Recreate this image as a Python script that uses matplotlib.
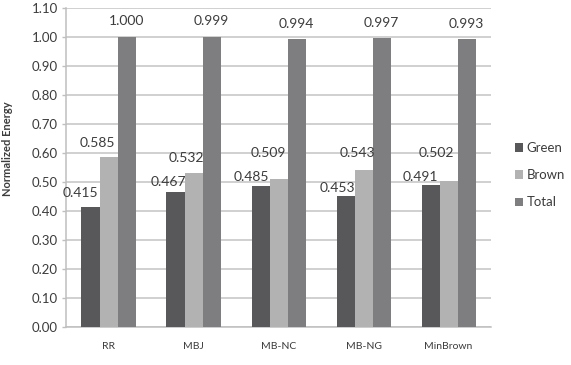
import matplotlib.pyplot as plt
import numpy as np
import matplotlib

matplotlib.rc("font", family=['Lato', 'DejaVu Sans'])

# data
schemes = ['RR', 'MBJ', 'MB-NC', 'MB-NG', 'MinBrown']
green = [0.415, 0.467, 0.485, 0.453, 0.491]
brown = [0.585, 0.532, 0.509, 0.543, 0.502]
total = [1.000, 0.999, 0.994, 0.997, 0.993]
series_names = ['Green', 'Brown', 'Total']

colors = ['#58585a', '#b2b2b2', '#7e7e80']
text_col = '#3c3c3c'

# label shifts in pixels (as Excel placed them)
dx_px = [[-10, -7, -9, -8, -10], [-11, -7, -10, -6, -12], [0, 0, 0, 0, 0]]
dy_px = [[14, 10, 9, 8, 8], [14, 15, 26, 17, 28], [16, 16, 15, 15, 15]]

fig = plt.figure(figsize=(5.71, 3.65), dpi=100)
ax = fig.add_axes([0.1156, 0.1041, 0.7444, 0.8739])

x = np.arange(len(schemes))
w = 0.212
series = [green, brown, total]
offsets = [-w, 0, w]

for i, (vals, off, col, name) in enumerate(zip(series, offsets, colors, series_names)):
    bars = ax.bar(x + off, vals, width=w, color=col, label=name, zorder=3)
    for j, (b, v) in enumerate(zip(bars, vals)):
        ax.annotate('%.3f' % v, (b.get_x() + b.get_width() / 2, v),
                    xytext=(dx_px[i][j], dy_px[i][j]), textcoords='offset pixels',
                    ha='center', va='center', fontsize=10, color=text_col, zorder=4)

ax.set_xlim(-0.5, len(schemes) - 0.5)
ax.set_ylim(0, 1.10)
ax.set_yticks(np.arange(0, 1.101, 0.1))
ax.set_yticklabels(['%.2f' % t for t in np.arange(0, 1.101, 0.1)], fontsize=9.5, color=text_col)
ax.set_xticks(x)
ax.set_xticklabels(schemes, fontsize=7.5, color=text_col)
ax.tick_params(axis='x', length=0, pad=11)
ax.tick_params(axis='y', length=3, width=1, color='#bfbfbf', pad=3)

ax.grid(axis='y', color='#c4c4c4', linewidth=1.1, zorder=0)
for s in ['top', 'right']:
    ax.spines[s].set_visible(False)
for s in ['left', 'bottom']:
    ax.spines[s].set_color('#bfbfbf')
    ax.spines[s].set_linewidth(1.1)

ax.set_ylabel('Normalized Energy', fontsize=8, fontweight='bold', color=text_col)
ax.yaxis.set_label_coords(-0.125, 0.56)

leg = ax.legend(loc='center left', bbox_to_anchor=(1.056, 0.476), frameon=False,
                borderpad=0, borderaxespad=0,
                fontsize=9.5, handlelength=0.6, handleheight=0.6, handletextpad=0.3,
                labelspacing=1.15, labelcolor=text_col)

fig.savefig('out.png', dpi=100)
